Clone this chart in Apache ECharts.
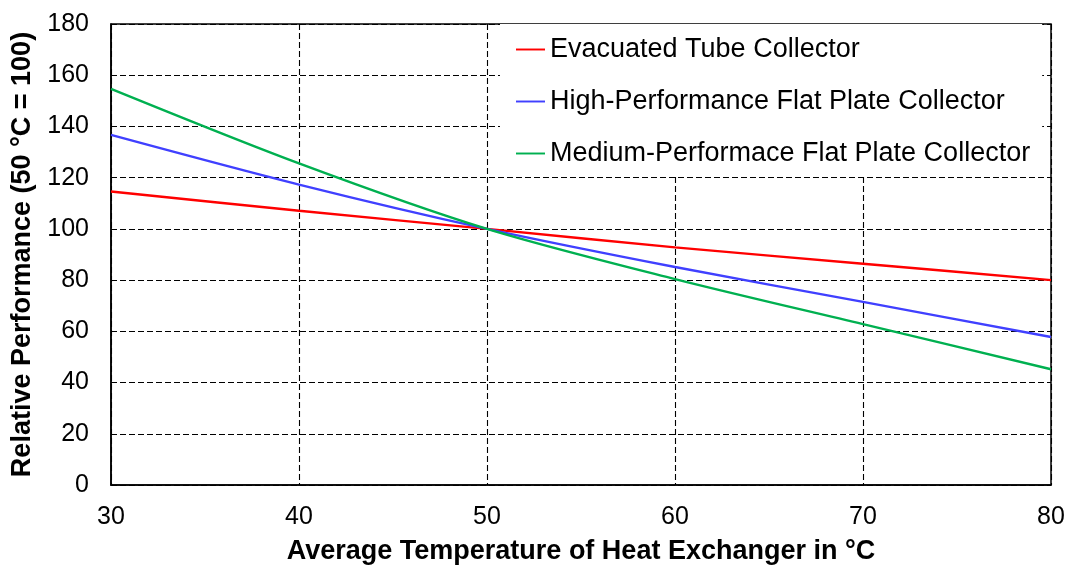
<!DOCTYPE html>
<html>
<head>
<meta charset="utf-8">
<script src="https://cdn.jsdelivr.net/npm/echarts@6/dist/echarts.min.js"></script>
<style>
  html, body { margin: 0; padding: 0; background: #fff; }
  #chart { width: 1070px; height: 566px; }
</style>
</head>
<body>
<div id="chart"></div>
<script>
// Average heat exchanger temperature (°C)
const temperatures = [30, 40, 50, 60, 70, 80];

// Relative collector performance, normalised to 100 at 50 °C
const evacuatedTube = [114.6, 107.1, 100, 92.8, 86.4, 80];
const highPerfFlatPlate = [136.7, 117.3, 100, 85.1, 71.5, 57.8];
const mediumPerfFlatPlate = [154.7, 125.6, 100, 80.4, 62.8, 45.2];

const seriesNames = [
  'Evacuated Tube Collector',
  'High-Performance Flat Plate Collector',
  'Medium-Performace Flat Plate Collector'
];
const seriesColors = ['#ff0000', '#4040ff', '#00b050'];
const seriesValues = [evacuatedTube, highPerfFlatPlate, mediumPerfFlatPlate];

const FONT = '"Liberation Sans", Arial, sans-serif';

const pairs = vals => temperatures.map((t, i) => [t, vals[i]]);

const chart = echarts.init(document.getElementById('chart'), null, { renderer: 'canvas' });

chart.setOption({
  backgroundColor: '#fff',
  animation: false,
  grid: {
    left: 111, right: 19, top: 24, bottom: 81,
    outerBoundsMode: 'none',
    containLabel: false,
    show: true, borderColor: '#000', borderWidth: 1.5, backgroundColor: 'transparent'
  },
  legend: {
    orient: 'vertical',
    left: 500, top: 24,
    padding: [12, 12, 9, 16],
    backgroundColor: '#fff',
    icon: 'path://M0,0H30V2H0Z',
    itemWidth: 29, itemHeight: 26, itemGap: 25,
    textStyle: { fontFamily: FONT, fontSize: 27, lineHeight: 26, color: '#000' },
    data: seriesNames
  },
  xAxis: {
    type: 'value',
    min: 30, max: 80, interval: 10,
    name: 'Average Temperature of Heat Exchanger in °C',
    nameLocation: 'middle', nameGap: 53,
    nameTextStyle: { fontFamily: FONT, fontSize: 27, fontWeight: 'bold', color: '#000' },
    axisLine: { show: true, lineStyle: { color: '#000', width: 1.5 } },
    axisTick: { show: false },
    axisLabel: { fontFamily: FONT, fontSize: 25, color: '#000', margin: 20 },
    splitLine: { show: true, lineStyle: { color: '#000', width: 1.1, type: [6, 3] } }
  },
  yAxis: {
    type: 'value',
    min: 0, max: 180, interval: 20,
    name: 'Relative Performance (50 °C = 100)',
    nameLocation: 'middle', nameGap: 68,
    nameTextStyle: { fontFamily: FONT, fontSize: 27, fontWeight: 'bold', color: '#000' },
    axisLine: { show: true, lineStyle: { color: '#000', width: 1.5 } },
    axisTick: { show: false },
    axisLabel: { fontFamily: FONT, fontSize: 25, color: '#000', margin: 22 },
    splitLine: { show: true, lineStyle: { color: '#000', width: 1.1, type: [6, 3] } }
  },
  series: seriesNames.map((name, i) => ({
    name,
    type: 'line',
    data: pairs(seriesValues[i]),
    smooth: 0.3,
    symbol: 'none',
    color: seriesColors[i],
    lineStyle: { color: seriesColors[i], width: 2.4 },
    z: 3
  }))
});
</script>
</body>
</html>
